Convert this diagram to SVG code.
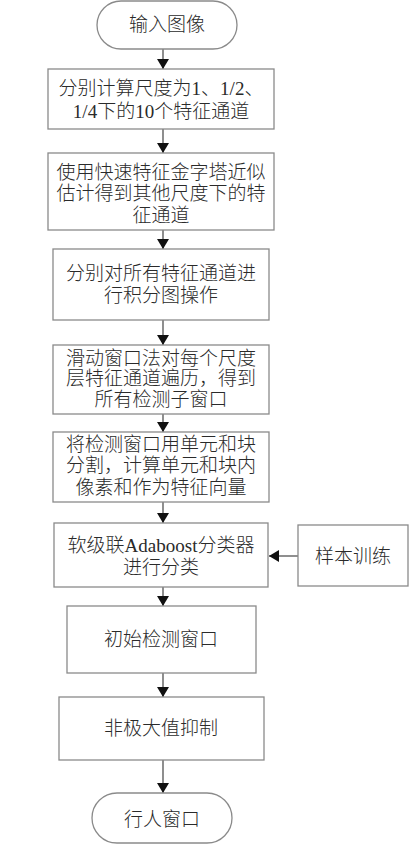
<svg xmlns="http://www.w3.org/2000/svg" width="416" height="848" viewBox="0 0 416 848">
<style>
.box{fill:#fff;stroke:#8a8a8a;stroke-width:1.3}
.t{font-family:"Liberation Serif","Noto Sans CJK SC",serif;font-size:19px;font-weight:300;fill:#2a2a2a;text-anchor:middle;dominant-baseline:central}
.c{stroke:#444;stroke-width:1.2;fill:none;marker-end:url(#ah)}
</style>
<defs>
<marker id="ah" viewBox="0 0 10 12" refX="10" refY="6" markerWidth="10" markerHeight="12" markerUnits="userSpaceOnUse" orient="auto">
<path d="M0,0 L10,6 L0,12 Z" fill="#111"/>
</marker>
</defs>
<rect width="416" height="848" fill="#fff"/>
<g id="connectors">
<line class="c" x1="163" y1="49" x2="163" y2="69"/>
<line class="c" x1="163" y1="129" x2="163" y2="153"/>
<line class="c" x1="163" y1="230" x2="163" y2="249"/>
<line class="c" x1="163" y1="320" x2="163" y2="345"/>
<line class="c" x1="163" y1="414" x2="163" y2="432"/>
<line class="c" x1="163" y1="502" x2="163" y2="523"/>
<line class="c" x1="298" y1="556" x2="269" y2="556"/>
<line class="c" x1="163" y1="587" x2="163" y2="606"/>
<line class="c" x1="163" y1="673" x2="163" y2="697"/>
<line class="c" x1="163" y1="760" x2="163" y2="793"/>
</g>
<g id="start">
<rect class="box" x="97" y="1" width="140" height="48" rx="24"/>
<text class="t" x="167" y="24">输入图像</text>
</g>
<g id="n1">
<rect class="box" x="48" y="69" width="226" height="60"/>
<text class="t" x="161" y="88">分别计算尺度为1、1/2、</text>
<text class="t" x="161" y="111">1/4下的10个特征通道</text>
</g>
<g id="n2">
<rect class="box" x="48" y="153" width="226" height="77"/>
<text class="t" x="161" y="172">使用快速特征金字塔近似</text>
<text class="t" x="161" y="193">估计得到其他尺度下的特</text>
<text class="t" x="161" y="215">征通道</text>
</g>
<g id="n3">
<rect class="box" x="53" y="249" width="216" height="71"/>
<text class="t" x="161" y="273">分别对所有特征通道进</text>
<text class="t" x="161" y="295">行积分图操作</text>
</g>
<g id="n4">
<rect class="box" x="53" y="345" width="216" height="69"/>
<text class="t" x="161" y="358">滑动窗口法对每个尺度</text>
<text class="t" x="161" y="378">层特征通道遍历，得到</text>
<text class="t" x="161" y="399">所有检测子窗口</text>
</g>
<g id="n5">
<rect class="box" x="53" y="432" width="216" height="70"/>
<text class="t" x="161" y="444">将检测窗口用单元和块</text>
<text class="t" x="161" y="465">分割，计算单元和块内</text>
<text class="t" x="161" y="487">像素和作为特征向量</text>
</g>
<g id="n6">
<rect class="box" x="54" y="523" width="214" height="64"/>
<text class="t" x="161" y="545">软级联Adaboost分类器</text>
<text class="t" x="161" y="567">进行分类</text>
</g>
<g id="train">
<rect class="box" x="298" y="525" width="110" height="61"/>
<text class="t" x="353" y="556">样本训练</text>
</g>
<g id="n7">
<rect class="box" x="67" y="606" width="189" height="67"/>
<text class="t" x="161" y="639">初始检测窗口</text>
</g>
<g id="n8">
<rect class="box" x="59" y="697" width="205" height="63"/>
<text class="t" x="161" y="728">非极大值抑制</text>
</g>
<g id="end">
<rect class="box" x="92" y="793" width="140" height="50" rx="25"/>
<text class="t" x="162" y="819">行人窗口</text>
</g>
</svg>
